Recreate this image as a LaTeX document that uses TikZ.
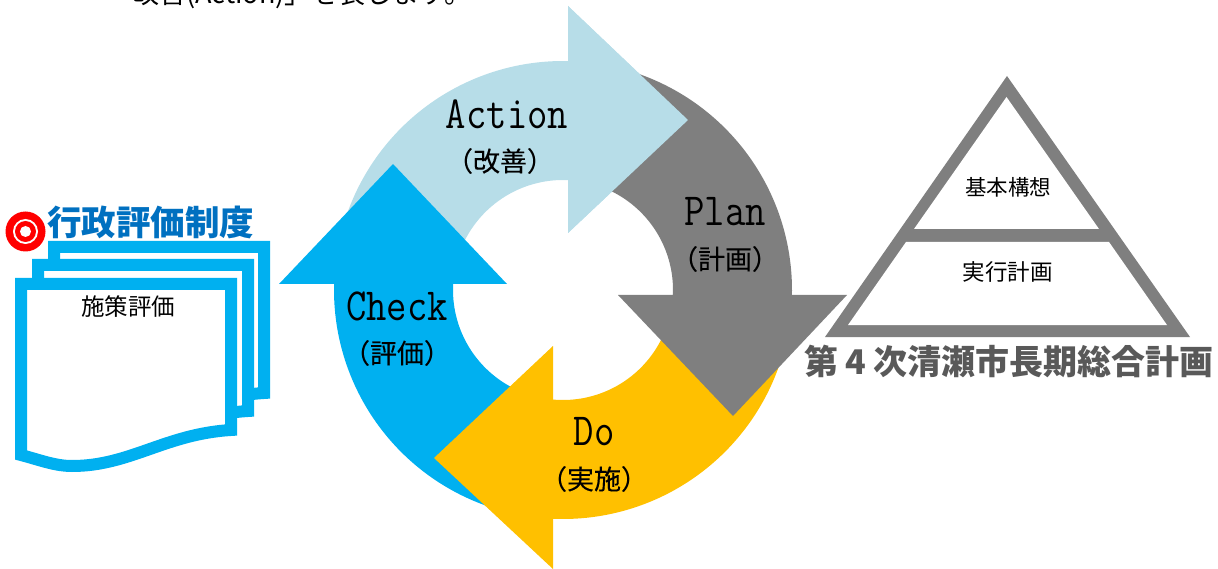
\documentclass[tikz,border=0pt]{standalone}
\usepackage{fontspec}
\usepackage{graphicx}
\setmainfont{Noto Sans CJK JP}
\newfontfamily\lblfont[FakeBold=0.25]{Noto Sans CJK JP}
\definecolor{cAct}{HTML}{B7DDE8}
\definecolor{cPlan}{HTML}{7F7F7F}
\definecolor{cDo}{HTML}{FFC000}
\definecolor{cChk}{HTML}{00B0F0}
\definecolor{cTitle}{HTML}{0070C0}
\definecolor{cLong}{HTML}{595959}
\newcommand{\entext}[1]{\scalebox{0.86}[1]{\ttfamily\fontsize{46}{46}\selectfont #1}}
\tikzset{
  sheet/.style={draw=cChk,line width=12pt,fill=white,miter limit=10},
  en/.style={inner sep=0pt,text=black,anchor=base},
  jp/.style={font=\fontsize{#1}{#1}\selectfont,inner sep=0pt,text=black},
  lbl/.style={font=\lblfont\fontsize{27}{27}\selectfont,inner sep=0pt,text=black},
  jpb/.style={font=\bfseries\fontsize{#1}{#1}\selectfont,inner sep=0pt},
  arcout/.style 2 args={insert path={-- plot[domain=#1:#2,samples=70] ({563+229*cos(\x)},{290+229*sin(\x)})}},
  arcin/.style 2 args={insert path={-- plot[domain=#1:#2,samples=50] ({563+110*cos(\x)},{290+110*sin(\x)})}},
}
\begin{document}
\begin{tikzpicture}[x=1pt,y=-1pt]
\useasboundingbox (0,0) rectangle (1218,569);
\clip (0,0) rectangle (1218,569);
\node[jp=27,anchor=base west] (cut) at (105,4) {「改善(Action)」を表します。};
% Action
\fill[cAct] (342,231) [arcout={195}{271.25}] -- (568,6) -- (688,120) -- (568,233) -- (568,180) [arcin={272.6}{195}] -- cycle;
% Check
\fill[cChk] (334,284) [arcout={181.5}{109}] [arcin={109}{183.1}] -- (452,284) -- (507,284) -- (393,164) -- (279,284) -- cycle;
% Do
\fill[cDo] (779.5,364.6) [arcout={19}{92.5}] -- (553,569) -- (434,458) -- (553,346) -- (553,400) [arcin={95.2}{19}] -- cycle;
% Plan
\fill[cPlan] (634,72) [arcout={288}{361.25}] -- (847,295) -- (733,416) -- (618,295) -- (673,295) [arcin={362.6}{288}] -- cycle;
% Action head on top of Plan
\fill[cAct] (568,6) -- (688,120) -- (568,233) -- cycle;
% labels
\node[en] (act) at (507,128.5) {\entext{Action}};
\node[lbl] (actj) at (500,161) {（改善）};
\node[en] (pln) at (725,225.5) {\entext{Plan}};
\node[lbl] (plnj) at (725,259) {（計画）};
\node[en] (chk) at (397,320) {\entext{Check}};
\node[lbl] (chkj) at (397,353) {（評価）};
\node[en] (dod) at (594,445) {\entext{Do}};
\node[lbl] (doj) at (594,479) {（実施）};
% documents
\foreach \dx/\dy in {33/-37,17/-19,0/0}{
  \begin{scope}[shift={(\dx,\dy)}]
  \draw[sheet] (21,284) -- (231,284) -- (231,430) .. controls (165,434) and (130,466) .. (72,466) .. controls (55,466) and (40,460) .. (21,455) -- cycle;
  \end{scope}
}
\node[jp=23.5] (shisaku) at (128,307) {施策評価};
% target
\fill[red] (25.5,231.5) circle[radius=20pt];
\fill[white] (25.5,231.5) circle[radius=12.5pt];
\fill[red] (25.5,231.5) circle[radius=10.5pt];
\fill[white] (25.5,231.5) circle[radius=5.5pt];
\node[jpb=34.5,text=cTitle] (gyosei) at (150.5,222) {行政評価制度};
% pyramid
\fill[cPlan] (1007,76) -- (1190,337) -- (825,337) -- cycle;
\fill[white] (1006.5,97) -- (1099,229) -- (914,229) -- cycle;
\fill[white] (906,242) -- (1109,242) -- (1167,325) -- (848,325) -- cycle;
\node[jp=21.5] (kihon) at (1008,187) {基本構想};
\node[jp=22.5] (jikko) at (1007.5,272) {実行計画};
\node[jpb=34,text=cLong] (long) at (1009,361) {第\hspace{7pt}4\hspace{7pt}次清瀬市長期総合計画};
\end{tikzpicture}
\end{document}
